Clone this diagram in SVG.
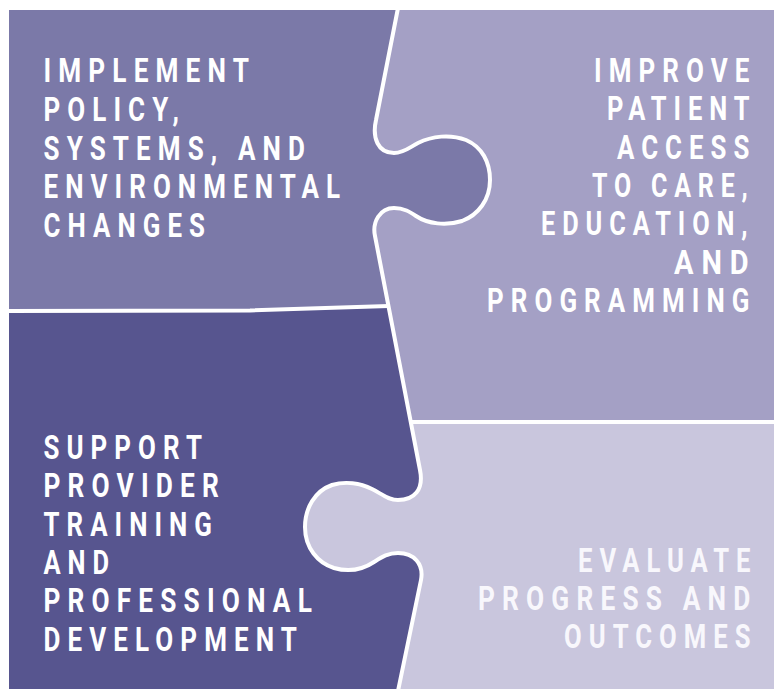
<svg xmlns="http://www.w3.org/2000/svg" width="774" height="689" viewBox="0 0 774 689">
<style>
.t{font-family:Roboto,"Liberation Sans",sans-serif;font-weight:700;font-size:33px;letter-spacing:9px;fill:#ffffff}
.tl{fill:#f8f7fc}
.div{fill:none;stroke:#ffffff;stroke-width:4;stroke-linejoin:round;stroke-linecap:butt}
</style>
<rect x="0" y="0" width="774" height="689" fill="#ffffff"/>
<g id="piece-improve-bg">
<rect x="370" y="10" width="404" height="412" fill="#a4a0c5"/>
</g>
<g id="piece-evaluate-bg">
<rect x="300" y="422" width="474" height="267" fill="#c9c6dd"/>
</g>
<g id="piece-implement">
<path fill="#7b79a8" d="M 9 10 L 398 10 L 376 120 C 372 138 378 153 394 153 C 404 153 410 147 418 143 C 432 136 450 134 466 140 C 482 147 490 162 490 180 C 490 200 478 215 462 221 C 446 226 428 224 416 216 C 410 212 404 208 394 208 C 380 208 372 222 375 236 L 388.6 306 L 250 310.5 L 9 311 Z"/>
<text class="t" transform="translate(43.5,82) scale(0.8,1)" x="0" y="0" textLength="265.6" lengthAdjust="spacingAndGlyphs">IMPLEMENT</text>
<text class="t" transform="translate(43.5,120.7) scale(0.8,1)" x="0" y="0" textLength="178.1" lengthAdjust="spacingAndGlyphs">POLICY,</text>
<text class="t" transform="translate(43.5,159.5) scale(0.8,1)" x="0" y="0" textLength="335.6" lengthAdjust="spacingAndGlyphs">SYSTEMS, AND</text>
<text class="t" transform="translate(43.5,198.2) scale(0.8,1)" x="0" y="0" textLength="379.4" lengthAdjust="spacingAndGlyphs">ENVIRONMENTAL</text>
<text class="t" transform="translate(43.5,237) scale(0.8,1)" x="0" y="0" textLength="210.6" lengthAdjust="spacingAndGlyphs">CHANGES</text>
</g>
<g id="piece-support">
<path fill="#57558f" d="M 9 311 L 250 310.5 L 388.6 306 L 420 470 C 424 490 414 500 398 500 C 388 500 382 494 372 489 C 360 483 345 481 332 485 C 315 491 305 508 305 527 C 305 548 318 563 334 568 C 348 572 362 570 374 562 C 382 557 388 553 398 553 C 414 553 424 564 421 580 L 398 689 L 9 689 Z"/>
<text class="t" transform="translate(43.5,458.8) scale(0.8,1)" x="0" y="0" textLength="206.9" lengthAdjust="spacingAndGlyphs">SUPPORT</text>
<text class="t" transform="translate(43.5,497.2) scale(0.8,1)" x="0" y="0" textLength="228.1" lengthAdjust="spacingAndGlyphs">PROVIDER</text>
<text class="t" transform="translate(43.5,535.5) scale(0.8,1)" x="0" y="0" textLength="219.4" lengthAdjust="spacingAndGlyphs">TRAINING</text>
<text class="t" transform="translate(43.5,573.8) scale(0.8,1)" x="0" y="0" textLength="90.6" lengthAdjust="spacingAndGlyphs">AND</text>
<text class="t" transform="translate(43.5,612.2) scale(0.8,1)" x="0" y="0" textLength="344.4" lengthAdjust="spacingAndGlyphs">PROFESSIONAL</text>
<text class="t" transform="translate(43.5,650.5) scale(0.8,1)" x="0" y="0" textLength="325.6" lengthAdjust="spacingAndGlyphs">DEVELOPMENT</text>
</g>
<g id="piece-improve">
<text class="t" transform="translate(594,81.5) scale(0.8,1)" x="0" y="0" textLength="203.1" lengthAdjust="spacingAndGlyphs">IMPROVE</text>
<text class="t" transform="translate(607,120) scale(0.8,1)" x="0" y="0" textLength="186.9" lengthAdjust="spacingAndGlyphs">PATIENT</text>
<text class="t" transform="translate(617,158.5) scale(0.8,1)" x="0" y="0" textLength="174.4" lengthAdjust="spacingAndGlyphs">ACCESS</text>
<text class="t" transform="translate(592,197) scale(0.8,1)" x="0" y="0" textLength="203.1" lengthAdjust="spacingAndGlyphs">TO CARE,</text>
<text class="t" transform="translate(541,235.3) scale(0.8,1)" x="0" y="0" textLength="266.9" lengthAdjust="spacingAndGlyphs">EDUCATION,</text>
<text class="t" transform="translate(674,273.5) scale(0.8,1)" x="0" y="0" textLength="103.1" lengthAdjust="spacingAndGlyphs">AND</text>
<text class="t" transform="translate(487,312) scale(0.8,1)" x="0" y="0" textLength="336.9" lengthAdjust="spacingAndGlyphs">PROGRAMMING</text>
</g>
<g id="piece-evaluate">
<text class="t tl" transform="translate(578,571.5) scale(0.8,1)" x="0" y="0" textLength="224.4" lengthAdjust="spacingAndGlyphs">EVALUATE</text>
<text class="t tl" transform="translate(478,610) scale(0.8,1)" x="0" y="0" textLength="349.4" lengthAdjust="spacingAndGlyphs">PROGRESS AND</text>
<text class="t tl" transform="translate(564,648.3) scale(0.8,1)" x="0" y="0" textLength="241.9" lengthAdjust="spacingAndGlyphs">OUTCOMES</text>
</g>
<g id="connectors">
<path class="div" d="M 398 8 L 376 120 C 372 138 378 153 394 153 C 404 153 410 147 418 143 C 432 136 450 134 466 140 C 482 147 490 162 490 180 C 490 200 478 215 462 221 C 446 226 428 224 416 216 C 410 212 404 208 394 208 C 380 208 372 222 375 236 L 420 470 C 424 490 414 500 398 500 C 388 500 382 494 372 489 C 360 483 345 481 332 485 C 315 491 305 508 305 527 C 305 548 318 563 334 568 C 348 572 362 570 374 562 C 382 557 388 553 398 553 C 414 553 424 564 421 580 L 398 691"/>
<path class="div" d="M 7 311 L 250 310.5 L 388.6 306"/>
<path class="div" d="M 411 422 L 776 422"/>
</g>
</svg>
